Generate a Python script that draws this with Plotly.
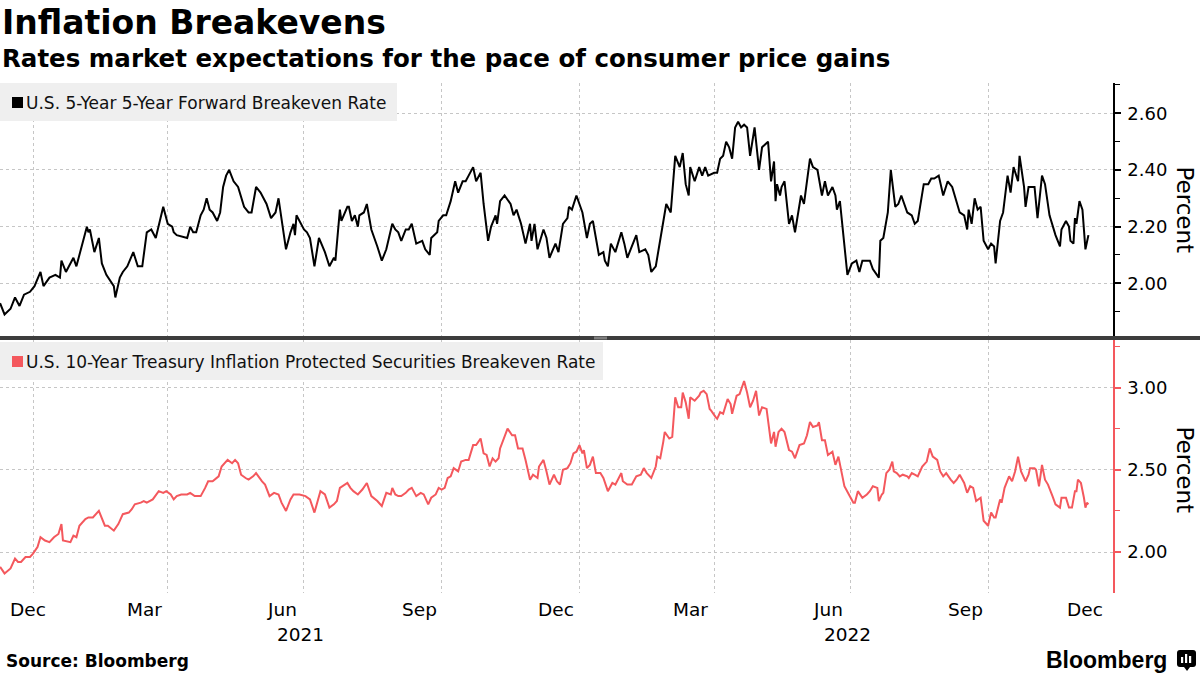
import plotly.graph_objects as go
import pandas as pd

W, H = 1200, 675

# ---------------- data ----------------
fwd_dates = [
    "2020-12-10", "2020-12-13", "2020-12-17", "2020-12-20", "2020-12-23", "2020-12-26", "2020-12-30",
    "2021-01-02", "2021-01-06", "2021-01-08", "2021-01-12", "2021-01-16", "2021-01-19", "2021-01-20",
    "2021-01-23", "2021-01-28", "2021-01-30", "2021-02-04", "2021-02-06", "2021-02-07", "2021-02-08",
    "2021-02-11", "2021-02-14", "2021-02-16", "2021-02-19", "2021-02-24", "2021-02-25", "2021-02-28",
    "2021-03-02", "2021-03-05", "2021-03-09", "2021-03-12", "2021-03-15", "2021-03-18", "2021-03-21",
    "2021-03-24", "2021-03-27", "2021-03-29", "2021-04-01", "2021-04-04", "2021-04-05", "2021-04-07",
    "2021-04-14", "2021-04-16", "2021-04-18", "2021-04-20", "2021-04-23", "2021-04-25", "2021-04-27",
    "2021-04-29", "2021-05-01", "2021-05-04", "2021-05-06", "2021-05-08", "2021-05-10", "2021-05-12",
    "2021-05-15", "2021-05-18", "2021-05-22", "2021-05-25", "2021-05-27", "2021-05-30", "2021-06-02",
    "2021-06-06", "2021-06-09", "2021-06-12", "2021-06-14", "2021-06-16", "2021-06-19", "2021-06-22",
    "2021-06-24", "2021-06-25", "2021-06-26", "2021-07-01", "2021-07-03", "2021-07-05", "2021-07-08",
    "2021-07-11", "2021-07-14", "2021-07-15", "2021-07-18", "2021-07-21", "2021-07-22", "2021-07-25",
    "2021-07-26", "2021-07-30", "2021-07-31", "2021-08-02", "2021-08-04", "2021-08-06", "2021-08-07",
    "2021-08-10", "2021-08-12", "2021-08-15", "2021-08-19", "2021-08-22", "2021-08-25", "2021-08-27",
    "2021-08-29", "2021-08-31", "2021-09-02", "2021-09-04", "2021-09-07", "2021-09-09", "2021-09-11",
    "2021-09-14", "2021-09-18", "2021-09-20", "2021-09-23", "2021-09-24", "2021-09-28", "2021-09-29",
    "2021-10-02", "2021-10-04", "2021-10-07", "2021-10-10", "2021-10-12", "2021-10-15", "2021-10-17",
    "2021-10-19", "2021-10-22", "2021-10-24", "2021-10-27", "2021-10-29", "2021-11-01", "2021-11-03",
    "2021-11-06", "2021-11-07", "2021-11-09", "2021-11-12", "2021-11-16", "2021-11-18", "2021-11-20",
    "2021-11-23", "2021-11-26", "2021-11-29", "2021-11-30", "2021-12-02", "2021-12-04", "2021-12-08",
    "2021-12-10", "2021-12-12", "2021-12-16", "2021-12-18", "2021-12-21", "2021-12-24", "2021-12-25",
    "2021-12-27", "2021-12-30", "2022-01-01", "2022-01-03", "2022-01-06", "2022-01-08", "2022-01-10",
    "2022-01-13", "2022-01-14", "2022-01-17", "2022-01-18", "2022-01-20", "2022-01-22", "2022-01-25",
    "2022-01-29", "2022-01-31", "2022-02-02", "2022-02-05", "2022-02-08", "2022-02-10", "2022-02-14",
    "2022-02-16", "2022-02-18", "2022-02-21", "2022-02-23", "2022-02-26", "2022-02-28", "2022-03-03",
    "2022-03-06", "2022-03-09", "2022-03-11", "2022-03-13", "2022-03-15", "2022-03-16", "2022-03-19",
    "2022-03-22", "2022-03-24", "2022-03-26", "2022-03-28", "2022-04-01", "2022-04-03", "2022-04-05",
    "2022-04-07", "2022-04-09", "2022-04-11", "2022-04-13", "2022-04-15", "2022-04-17", "2022-04-19",
    "2022-04-21", "2022-04-23", "2022-04-25", "2022-04-28", "2022-05-01", "2022-05-03", "2022-05-05",
    "2022-05-07", "2022-05-08", "2022-05-09", "2022-05-11", "2022-05-12", "2022-05-13", "2022-05-15",
    "2022-05-16", "2022-05-18", "2022-05-21", "2022-05-23", "2022-05-25", "2022-05-27", "2022-05-29",
    "2022-05-31", "2022-06-04", "2022-06-06", "2022-06-09", "2022-06-12", "2022-06-14", "2022-06-16",
    "2022-06-19", "2022-06-21", "2022-06-22", "2022-06-24", "2022-06-26", "2022-06-29", "2022-07-02",
    "2022-07-05", "2022-07-07", "2022-07-09", "2022-07-12", "2022-07-14", "2022-07-16", "2022-07-20",
    "2022-07-21", "2022-07-23", "2022-07-26", "2022-07-28", "2022-07-31", "2022-08-02", "2022-08-04",
    "2022-08-08", "2022-08-11", "2022-08-13", "2022-08-15", "2022-08-19", "2022-08-22", "2022-08-24",
    "2022-08-26", "2022-08-29", "2022-09-01", "2022-09-04", "2022-09-07", "2022-09-10", "2022-09-12",
    "2022-09-15", "2022-09-17", "2022-09-18", "2022-09-20", "2022-09-22", "2022-09-24", "2022-09-26",
    "2022-09-28", "2022-10-01", "2022-10-03", "2022-10-05", "2022-10-06", "2022-10-09", "2022-10-11",
    "2022-10-14", "2022-10-16", "2022-10-18", "2022-10-21", "2022-10-22", "2022-10-25", "2022-10-26",
    "2022-10-28", "2022-10-30", "2022-11-01", "2022-11-03", "2022-11-06", "2022-11-08", "2022-11-11",
    "2022-11-15", "2022-11-18", "2022-11-19", "2022-11-22", "2022-11-24", "2022-11-25", "2022-11-27",
    "2022-11-28", "2022-11-29", "2022-12-01", "2022-12-03", "2022-12-05", "2022-12-07",
]
fwd_values = [
    1.93, 1.89, 1.91, 1.95, 1.92, 1.96, 1.97,
    1.99, 2.04, 1.99, 2.02, 2.03, 2.02, 2.08,
    2.04, 2.09, 2.06, 2.16, 2.20, 2.18, 2.19,
    2.11, 2.16, 2.07, 2.03, 1.99, 1.95, 2.02,
    2.04, 2.06, 2.11, 2.06, 2.06, 2.18, 2.19,
    2.16, 2.22, 2.27, 2.21, 2.20, 2.18, 2.17,
    2.16, 2.20, 2.18, 2.18, 2.24, 2.26, 2.30,
    2.26, 2.25, 2.22, 2.25, 2.34, 2.38, 2.40,
    2.36, 2.34, 2.27, 2.25, 2.25, 2.34, 2.32,
    2.28, 2.23, 2.25, 2.30, 2.22, 2.12, 2.18,
    2.21, 2.17, 2.24, 2.19, 2.18, 2.16, 2.06,
    2.16, 2.12, 2.11, 2.06, 2.09, 2.08, 2.26,
    2.22, 2.27, 2.27, 2.22, 2.24, 2.20, 2.24,
    2.25, 2.28, 2.19, 2.13, 2.08, 2.12, 2.16,
    2.21, 2.19, 2.18, 2.15, 2.19, 2.19, 2.21,
    2.14, 2.15, 2.12, 2.10, 2.16, 2.18, 2.22,
    2.24, 2.24, 2.29, 2.36, 2.32, 2.36, 2.36,
    2.38, 2.41, 2.36, 2.39, 2.28, 2.15, 2.20,
    2.24, 2.21, 2.29, 2.31, 2.28, 2.24, 2.26,
    2.21, 2.14, 2.21, 2.15, 2.21, 2.12, 2.19,
    2.16, 2.09, 2.14, 2.11, 2.21, 2.23, 2.27,
    2.26, 2.31, 2.28, 2.25, 2.16, 2.21, 2.22,
    2.14, 2.10, 2.11, 2.08, 2.06, 2.14, 2.11,
    2.18, 2.14, 2.09, 2.13, 2.17, 2.11, 2.12,
    2.10, 2.04, 2.06, 2.12, 2.22, 2.28, 2.25,
    2.45, 2.41, 2.46, 2.35, 2.31, 2.41, 2.36,
    2.41, 2.38, 2.41, 2.38, 2.39, 2.39, 2.44,
    2.45, 2.50, 2.48, 2.44, 2.55, 2.57, 2.55,
    2.56, 2.55, 2.45, 2.55, 2.40, 2.48, 2.49,
    2.50, 2.43, 2.36, 2.43, 2.29, 2.35, 2.31,
    2.34, 2.36, 2.21, 2.24, 2.18, 2.25, 2.31,
    2.28, 2.44, 2.41, 2.40, 2.31, 2.36, 2.31,
    2.34, 2.31, 2.26, 2.29, 2.19, 2.03, 2.07,
    2.08, 2.04, 2.08, 2.08, 2.08, 2.05, 2.02,
    2.15, 2.16, 2.25, 2.40, 2.27, 2.28, 2.31,
    2.25, 2.24, 2.21, 2.22, 2.35, 2.35, 2.37,
    2.37, 2.38, 2.31, 2.36, 2.34, 2.28, 2.25,
    2.24, 2.19, 2.26, 2.21, 2.30, 2.26, 2.27,
    2.15, 2.12, 2.14, 2.13, 2.07, 2.22, 2.25,
    2.38, 2.32, 2.41, 2.36, 2.45, 2.34, 2.27,
    2.34, 2.34, 2.34, 2.23, 2.38, 2.35, 2.24,
    2.17, 2.13, 2.19, 2.22, 2.20, 2.15, 2.14,
    2.23, 2.21, 2.29, 2.26, 2.12, 2.17,
]

tips_dates = [
    "2020-12-10", "2020-12-13", "2020-12-17", "2020-12-20", "2020-12-22", "2020-12-24", "2020-12-27",
    "2020-12-30", "2021-01-01", "2021-01-04", "2021-01-06", "2021-01-09", "2021-01-12", "2021-01-15",
    "2021-01-18", "2021-01-20", "2021-01-21", "2021-01-26", "2021-01-28", "2021-01-30", "2021-02-01",
    "2021-02-05", "2021-02-07", "2021-02-10", "2021-02-14", "2021-02-16", "2021-02-18", "2021-02-20",
    "2021-02-24", "2021-02-27", "2021-03-02", "2021-03-06", "2021-03-08", "2021-03-10", "2021-03-14",
    "2021-03-16", "2021-03-18", "2021-03-22", "2021-03-26", "2021-03-29", "2021-03-31", "2021-04-03",
    "2021-04-05", "2021-04-07", "2021-04-10", "2021-04-14", "2021-04-16", "2021-04-19", "2021-04-23",
    "2021-04-26", "2021-04-28", "2021-05-01", "2021-05-05", "2021-05-07", "2021-05-09", "2021-05-11",
    "2021-05-14", "2021-05-16", "2021-05-18", "2021-05-20", "2021-05-23", "2021-05-25", "2021-05-28",
    "2021-05-30", "2021-06-03", "2021-06-05", "2021-06-08", "2021-06-11", "2021-06-14", "2021-06-16",
    "2021-06-19", "2021-06-22", "2021-06-24", "2021-06-26", "2021-06-28", "2021-07-02", "2021-07-05",
    "2021-07-08", "2021-07-11", "2021-07-12", "2021-07-15", "2021-07-18", "2021-07-21", "2021-07-23",
    "2021-07-25", "2021-07-27", "2021-07-30", "2021-08-01", "2021-08-03", "2021-08-06", "2021-08-09",
    "2021-08-12", "2021-08-15", "2021-08-19", "2021-08-22", "2021-08-25", "2021-08-28", "2021-08-29",
    "2021-08-31", "2021-09-02", "2021-09-04", "2021-09-07", "2021-09-09", "2021-09-11", "2021-09-14",
    "2021-09-17", "2021-09-19", "2021-09-22", "2021-09-24", "2021-09-27", "2021-09-29", "2021-10-01",
    "2021-10-03", "2021-10-05", "2021-10-07", "2021-10-09", "2021-10-12", "2021-10-14", "2021-10-17",
    "2021-10-19", "2021-10-22", "2021-10-24", "2021-10-27", "2021-10-29", "2021-10-31", "2021-11-02",
    "2021-11-04", "2021-11-06", "2021-11-08", "2021-11-09", "2021-11-12", "2021-11-14", "2021-11-17",
    "2021-11-19", "2021-11-21", "2021-11-24", "2021-11-26", "2021-11-29", "2021-12-01", "2021-12-04",
    "2021-12-05", "2021-12-08", "2021-12-10", "2021-12-12", "2021-12-15", "2021-12-17", "2021-12-19",
    "2021-12-21", "2021-12-24", "2021-12-26", "2021-12-28", "2021-12-30", "2022-01-01", "2022-01-03",
    "2022-01-04", "2022-01-06", "2022-01-08", "2022-01-10", "2022-01-12", "2022-01-15", "2022-01-17",
    "2022-01-20", "2022-01-23", "2022-01-25", "2022-01-29", "2022-01-30", "2022-02-02", "2022-02-05",
    "2022-02-08", "2022-02-11", "2022-02-13", "2022-02-15", "2022-02-18", "2022-02-21", "2022-02-22",
    "2022-02-24", "2022-02-26", "2022-02-27", "2022-03-02", "2022-03-04", "2022-03-06", "2022-03-08",
    "2022-03-10", "2022-03-11", "2022-03-13", "2022-03-15", "2022-03-16", "2022-03-19", "2022-03-22",
    "2022-03-23", "2022-03-25", "2022-03-27", "2022-03-29", "2022-03-30", "2022-04-02", "2022-04-03",
    "2022-04-05", "2022-04-07", "2022-04-10", "2022-04-12", "2022-04-13", "2022-04-16", "2022-04-18",
    "2022-04-21", "2022-04-23", "2022-04-25", "2022-04-27", "2022-04-29", "2022-05-01", "2022-05-03",
    "2022-05-06", "2022-05-08", "2022-05-09", "2022-05-11", "2022-05-12", "2022-05-14", "2022-05-16",
    "2022-05-18", "2022-05-21", "2022-05-23", "2022-05-25", "2022-05-28", "2022-05-31", "2022-06-02",
    "2022-06-04", "2022-06-06", "2022-06-09", "2022-06-10", "2022-06-12", "2022-06-14", "2022-06-16",
    "2022-06-19", "2022-06-21", "2022-06-23", "2022-06-25", "2022-06-27", "2022-06-30", "2022-07-03",
    "2022-07-04", "2022-07-06", "2022-07-09", "2022-07-12", "2022-07-14", "2022-07-16", "2022-07-19",
    "2022-07-20", "2022-07-22", "2022-07-23", "2022-07-25", "2022-07-27", "2022-07-29", "2022-07-30",
    "2022-08-01", "2022-08-03", "2022-08-05", "2022-08-08", "2022-08-09", "2022-08-11", "2022-08-13",
    "2022-08-15", "2022-08-18", "2022-08-21", "2022-08-23", "2022-08-25", "2022-08-28", "2022-08-30",
    "2022-09-01", "2022-09-03", "2022-09-06", "2022-09-08", "2022-09-10", "2022-09-12", "2022-09-15",
    "2022-09-17", "2022-09-19", "2022-09-21", "2022-09-23", "2022-09-26", "2022-09-28", "2022-10-01",
    "2022-10-03", "2022-10-05", "2022-10-06", "2022-10-09", "2022-10-10", "2022-10-12", "2022-10-15",
    "2022-10-17", "2022-10-19", "2022-10-21", "2022-10-23", "2022-10-26", "2022-10-28", "2022-10-29",
    "2022-11-01", "2022-11-02", "2022-11-04", "2022-11-06", "2022-11-08", "2022-11-10", "2022-11-13",
    "2022-11-15", "2022-11-18", "2022-11-19", "2022-11-21", "2022-11-22", "2022-11-24", "2022-11-26",
    "2022-11-28", "2022-11-29", "2022-11-30", "2022-12-02", "2022-12-04", "2022-12-05", "2022-12-06",
    "2022-12-07",
]
tips_values = [
    1.91, 1.87, 1.90, 1.96, 1.94, 1.94, 1.97,
    1.97, 1.99, 2.03, 2.09, 2.07, 2.06, 2.09,
    2.11, 2.17, 2.07, 2.06, 2.10, 2.09, 2.16,
    2.20, 2.21, 2.21, 2.25, 2.20, 2.16, 2.16,
    2.13, 2.17, 2.23, 2.24, 2.26, 2.29, 2.30,
    2.31, 2.30, 2.32, 2.37, 2.36, 2.37, 2.35,
    2.32, 2.34, 2.35, 2.35, 2.36, 2.34, 2.34,
    2.39, 2.43, 2.43, 2.46, 2.52, 2.54, 2.56,
    2.54, 2.56, 2.54, 2.47, 2.45, 2.44, 2.46,
    2.48, 2.43, 2.41, 2.34, 2.36, 2.35, 2.30,
    2.25, 2.32, 2.35, 2.35, 2.35, 2.34, 2.32,
    2.24, 2.34, 2.37, 2.35, 2.27, 2.29, 2.31,
    2.39, 2.40, 2.42, 2.39, 2.37, 2.35, 2.38,
    2.42, 2.34, 2.31, 2.28, 2.36, 2.35, 2.39,
    2.35, 2.34, 2.34, 2.36, 2.38, 2.39, 2.34,
    2.36, 2.35, 2.29, 2.33, 2.35, 2.39, 2.38,
    2.39, 2.45, 2.46, 2.51, 2.49, 2.55, 2.56,
    2.56, 2.65, 2.65, 2.69, 2.60, 2.59, 2.52,
    2.57, 2.55, 2.57, 2.63, 2.71, 2.75, 2.71,
    2.71, 2.63, 2.63, 2.56, 2.44, 2.47, 2.45,
    2.52, 2.56, 2.49, 2.41, 2.47, 2.43, 2.41,
    2.50, 2.51, 2.54, 2.60, 2.61, 2.65, 2.60,
    2.62, 2.51, 2.53, 2.58, 2.48, 2.48, 2.45,
    2.37, 2.42, 2.41, 2.48, 2.43, 2.41, 2.41,
    2.46, 2.47, 2.51, 2.48, 2.45, 2.52, 2.58,
    2.57, 2.67, 2.73, 2.69, 2.70, 2.94, 2.88,
    2.88, 2.97, 2.91, 2.81, 2.94, 2.92, 2.95,
    2.97, 2.98, 2.96, 2.87, 2.86, 2.82, 2.81,
    2.85, 2.84, 2.93, 2.90, 2.84, 2.95, 2.96,
    3.04, 2.97, 2.88, 2.92, 2.98, 2.83, 2.88,
    2.87, 2.74, 2.66, 2.73, 2.64, 2.73, 2.75,
    2.73, 2.62, 2.61, 2.57, 2.65, 2.66, 2.71,
    2.79, 2.76, 2.77, 2.79, 2.68, 2.68, 2.59,
    2.61, 2.53, 2.58, 2.50, 2.40, 2.35, 2.30,
    2.30, 2.37, 2.33, 2.35, 2.37, 2.40, 2.39,
    2.31, 2.35, 2.36, 2.48, 2.50, 2.55, 2.49,
    2.48, 2.46, 2.47, 2.46, 2.45, 2.48, 2.47,
    2.46, 2.52, 2.55, 2.63, 2.58, 2.56, 2.49,
    2.46, 2.48, 2.44, 2.42, 2.44, 2.47, 2.42,
    2.36, 2.40, 2.39, 2.31, 2.33, 2.19, 2.16,
    2.24, 2.21, 2.21, 2.32, 2.30, 2.39, 2.46,
    2.43, 2.49, 2.58, 2.49, 2.43, 2.47, 2.51,
    2.51, 2.50, 2.40, 2.53, 2.44, 2.41, 2.34,
    2.29, 2.27, 2.33, 2.33, 2.33, 2.27, 2.27,
    2.37, 2.37, 2.44, 2.42, 2.33, 2.27, 2.30,
    2.29,
]

quarter_starts = ["2021-01-01", "2021-04-01", "2021-07-01", "2021-10-01",
                  "2022-01-01", "2022-04-01", "2022-07-01", "2022-10-01"]
month_label_months = ["2020-12", "2021-03", "2021-06", "2021-09", "2021-12",
                      "2022-03", "2022-06", "2022-09", "2022-12"]
month_label_text = ["Dec", "Mar", "Jun", "Sep", "Dec", "Mar", "Jun", "Sep", "Dec"]
year_labels = ["2021", "2022"]

fwd_major = [2.0, 2.2, 2.4, 2.6]
fwd_minor = [1.9, 2.1, 2.3, 2.5, 2.7]
tips_major = [2.0, 2.5, 3.0]
tips_minor = [1.75, 2.25, 2.75, 3.25]

title_text = "Inflation Breakevens"
subtitle_text = "Rates market expectations for the pace of consumer price gains"
fwd_name = "U.S. 5-Year 5-Year Forward Breakeven Rate"
tips_name = "U.S. 10-Year Treasury Inflation Protected Securities Breakeven Rate"
axis_title = "Percent"
source_text = "Source: Bloomberg"

# ---------------- styling / geometry ----------------
FONT = "DejaVu Sans"
RED = "#f4585d"
GRID = "#c6c6c6"
PLOT_RIGHT = 1113
TOP_Y0, TOP_Y1 = 83, 336
BOT_Y0, BOT_Y1 = 340, 593
X_START = pd.Timestamp("2020-12-09 23:00")
X_END = pd.Timestamp("2022-12-23 10:00")


def fx(p):
    return p / W


def fy(p):
    return 1 - p / H


def date_px(d):
    return (pd.Timestamp(d) - X_START) / (X_END - X_START) * PLOT_RIGHT


def px_date(p):
    return X_START + (X_END - X_START) * (p / PLOT_RIGHT)


fig = go.Figure()
fig.add_trace(go.Scatter(x=pd.to_datetime(fwd_dates), y=fwd_values, mode="lines",
                         line=dict(color="black", width=2), xaxis="x", yaxis="y",
                         hoverinfo="skip", showlegend=False, name=fwd_name))
fig.add_trace(go.Scatter(x=pd.to_datetime(tips_dates), y=tips_values, mode="lines",
                         line=dict(color=RED, width=2), xaxis="x2", yaxis="y2",
                         hoverinfo="skip", showlegend=False, name=tips_name))

xcommon = dict(domain=[0, fx(PLOT_RIGHT)], range=[X_START, X_END], type="date",
               tickmode="array", tickvals=quarter_starts, showticklabels=False,
               ticks="", showgrid=True, gridcolor=GRID, griddash="dot", gridwidth=1,
               zeroline=False, showline=False, fixedrange=True)


def yaxis_cfg(domain, rng, major, minor, color):
    return dict(domain=domain, range=rng, side="right", showline=True, linecolor=color,
                linewidth=1.5, ticks="outside", ticklen=6, tickwidth=2, tickcolor=color,
                tickmode="array", tickvals=major, tickformat=".2f",
                tickfont=dict(family=FONT, size=18, color="black"),
                ticklabelstandoff=3,
                showgrid=True, gridcolor=GRID, griddash="dot", gridwidth=1,
                zeroline=False, fixedrange=True,
                minor=dict(tickmode="array", tickvals=minor, ticks="outside", ticklen=5,
                           tickwidth=1, tickcolor=color, showgrid=False))


fig.update_layout(
    width=W, height=H, autosize=False,
    margin=dict(l=0, r=0, t=0, b=0),
    paper_bgcolor="white", plot_bgcolor="white",
    showlegend=False,
    xaxis=dict(xcommon, anchor="y"),
    xaxis2=dict(xcommon, anchor="y2"),
    yaxis=yaxis_cfg([fy(TOP_Y1), fy(TOP_Y0)], [1.814, 2.707], fwd_major, fwd_minor, "black"),
    yaxis2=yaxis_cfg([fy(BOT_Y1), fy(BOT_Y0)], [1.751, 3.289], tips_major, tips_minor, RED),
)

shapes = []
annotations = []

# separator between panels
shapes.append(dict(type="rect", xref="paper", yref="paper", x0=0, x1=1,
                   y0=fy(340), y1=fy(336), fillcolor="#3d3d3d", line=dict(width=0)))
for yy in (337.2, 338.8):
    shapes.append(dict(type="line", xref="paper", yref="paper", x0=fx(594), x1=fx(607),
                       y0=fy(yy), y1=fy(yy), line=dict(color="#9a9a9a", width=1)))

# legend boxes
for (bx1, by0, by1, col, name) in [(397, 83, 121, "black", fwd_name),
                                   (603, 342, 380, RED, tips_name)]:
    shapes.append(dict(type="rect", xref="paper", yref="paper", x0=0, x1=fx(bx1),
                       y0=fy(by1), y1=fy(by0), fillcolor="#efefef", line=dict(width=0),
                       layer="above"))
    cy = (by0 + by1) / 2 + 0.5
    shapes.append(dict(type="rect", xref="paper", yref="paper", x0=fx(12), x1=fx(23),
                       y0=fy(cy + 5.5), y1=fy(cy - 5.5), fillcolor=col, line=dict(width=0),
                       layer="above"))
    annotations.append(dict(text=name, xref="paper", yref="paper", x=fx(24), y=fy(cy),
                            xanchor="left", yanchor="middle", showarrow=False,
                            font=dict(family=FONT, size=17, color="#111111")))

# Percent axis titles
for cy in ((TOP_Y0 + TOP_Y1) / 2, (BOT_Y0 + BOT_Y1) / 2 + 3):
    annotations.append(dict(text=axis_title, xref="paper", yref="paper", x=fx(1185), y=fy(cy),
                            xanchor="center", yanchor="middle", textangle=90, showarrow=False,
                            font=dict(family=FONT, size=23, color="black")))

# month labels (centred on the visible part of each month)
last_date = pd.Timestamp(tips_dates[-1]) + pd.Timedelta(days=1)
for m, txt in zip(month_label_months, month_label_text):
    start = pd.Timestamp(m + "-01")
    end = start + pd.offsets.MonthBegin(1)
    s = max(start, X_START)
    e = min(end, last_date)
    c = s + (e - s) / 2
    if date_px(c) < 28:
        c = px_date(28)
    annotations.append(dict(text=txt, xref="x2", yref="paper", x=c, y=fy(609.5),
                            xanchor="center", yanchor="middle", showarrow=False,
                            font=dict(family=FONT, size=18.5, color="black")))
for yl in year_labels:
    annotations.append(dict(text=yl, xref="x2", yref="paper", x=pd.Timestamp(yl + "-06-29"),
                            y=fy(634), xanchor="center", yanchor="middle", showarrow=False,
                            font=dict(family=FONT, size=18.5, color="black")))

# titles
annotations.append(dict(text="<b>" + title_text + "</b>", xref="paper", yref="paper",
                        x=0, y=fy(22.5), xanchor="left", yanchor="middle", showarrow=False,
                        font=dict(family=FONT, size=33, color="black")))
annotations.append(dict(text="<b>" + subtitle_text + "</b>", xref="paper", yref="paper",
                        x=0, y=fy(58.5), xanchor="left", yanchor="middle", showarrow=False,
                        font=dict(family=FONT, size=24.5, color="black")))

# footer
annotations.append(dict(text="<b>" + source_text + "</b>", xref="paper", yref="paper",
                        x=fx(4), y=fy(661), xanchor="left", yanchor="middle", showarrow=False,
                        font=dict(family=FONT, size=17, color="black")))
annotations.append(dict(text="<b>Bloomberg</b>", xref="paper", yref="paper",
                        x=fx(1169), y=fy(660), xanchor="right", yanchor="middle", showarrow=False,
                        font=dict(family="Liberation Sans", size=23, color="black")))

# small logo icon
def P(x, y):
    return f"{fx(x):.5f},{fy(y):.5f}"


icon = ("M " + P(1180, 650) + " L " + P(1193, 650) + " Q " + P(1196, 650) + " " + P(1196, 653)
        + " L " + P(1196, 664) + " Q " + P(1196, 667) + " " + P(1193, 667)
        + " L " + P(1190, 667) + " L " + P(1187, 671) + " L " + P(1184, 667)
        + " L " + P(1180, 667) + " Q " + P(1177, 667) + " " + P(1177, 664)
        + " L " + P(1177, 653) + " Q " + P(1177, 650) + " " + P(1180, 650) + " Z")
shapes.append(dict(type="path", xref="paper", yref="paper", path=icon,
                   fillcolor="black", line=dict(width=0)))
for (bx, top) in ((1181, 657), (1185, 654), (1189, 656)):
    shapes.append(dict(type="rect", xref="paper", yref="paper", x0=fx(bx), x1=fx(bx + 2.2),
                       y0=fy(663), y1=fy(top), fillcolor="white", line=dict(width=0)))

fig.update_layout(shapes=shapes, annotations=annotations)

fig.write_html("out.html", config={"displayModeBar": False})
